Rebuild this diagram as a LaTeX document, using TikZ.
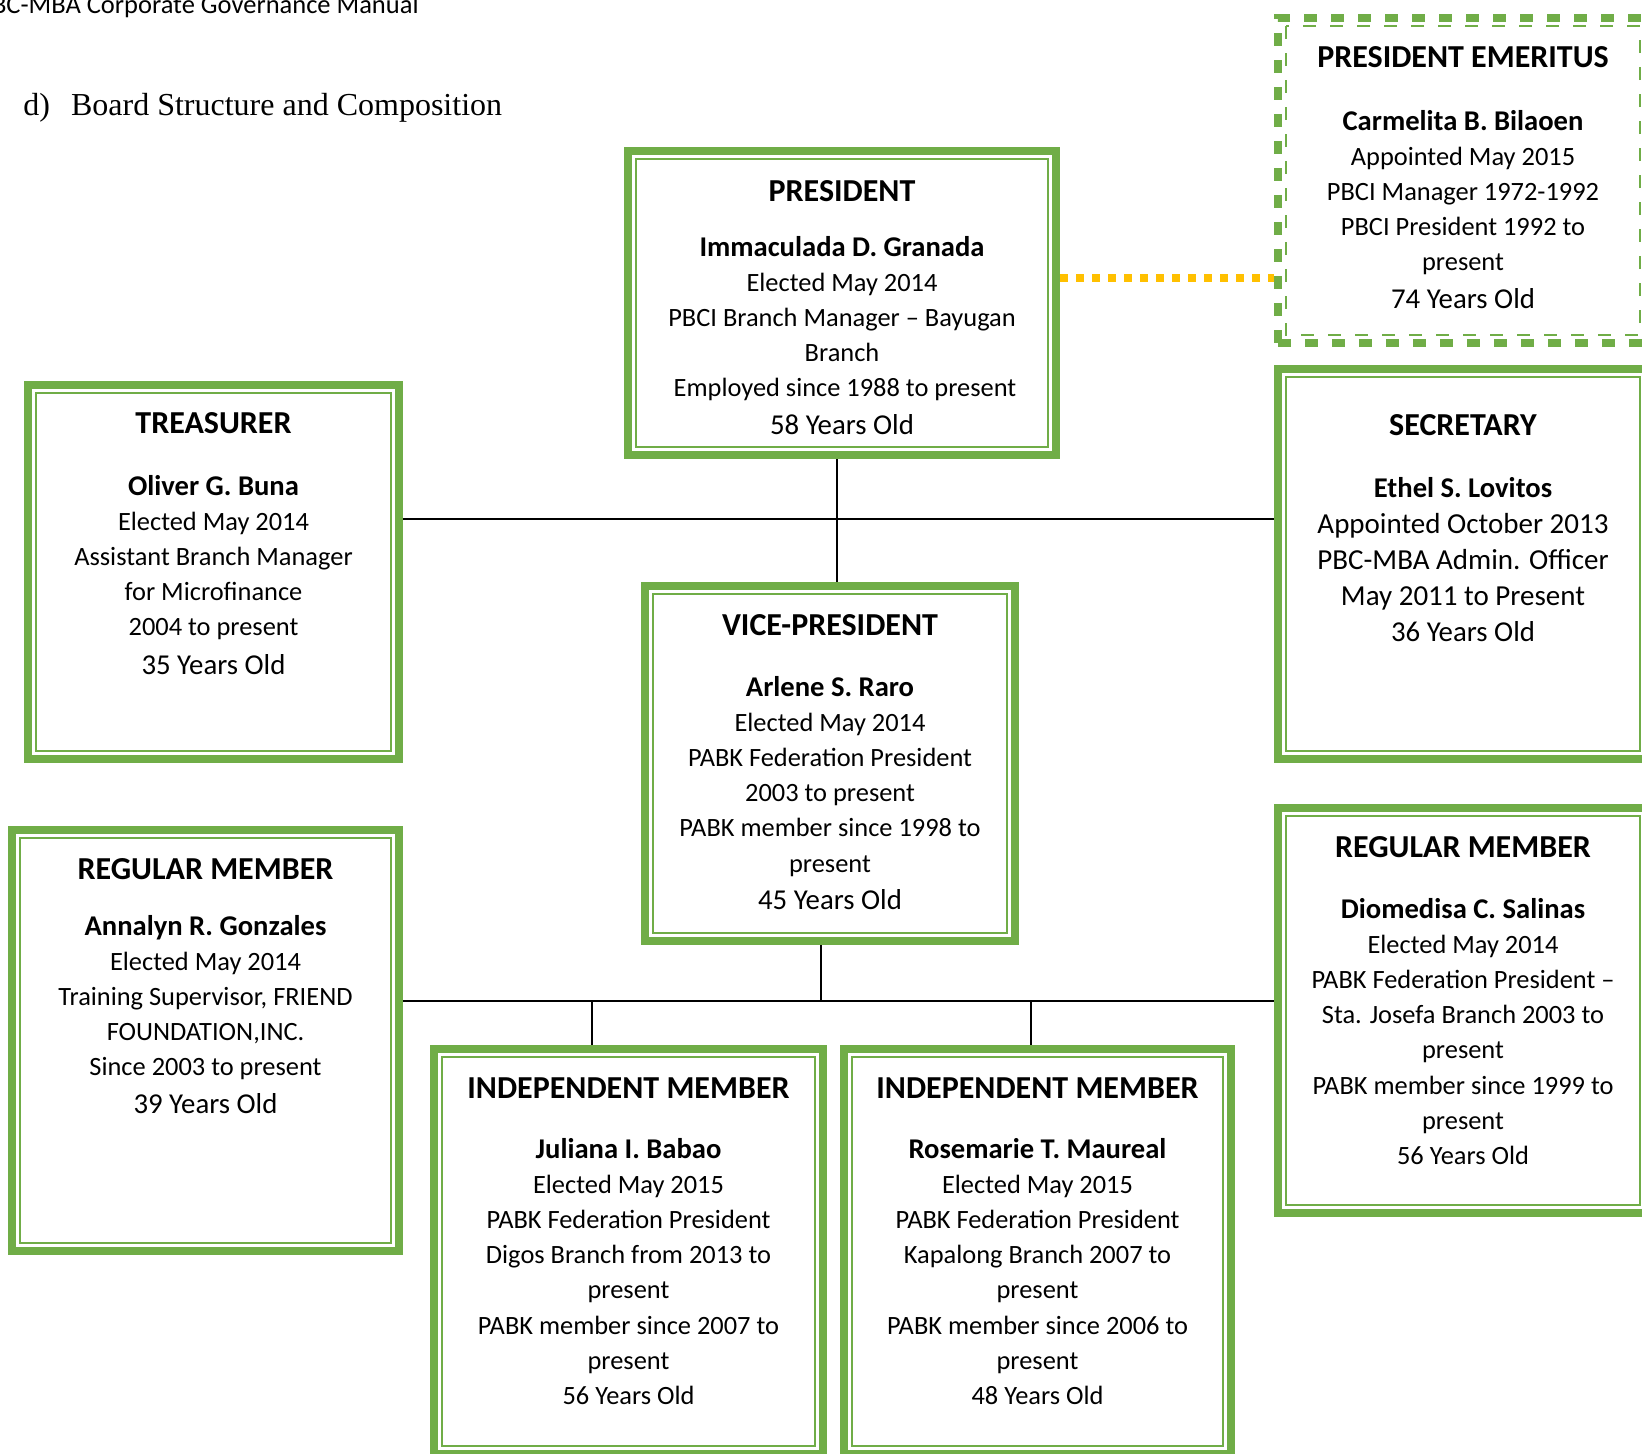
\documentclass[tikz,border=0pt]{standalone}
\usepackage{fontspec}
\setmainfont{Carlito}
\newfontfamily\headserif{Liberation Serif}
\definecolor{boardgreen}{HTML}{70AD47}
\definecolor{gold}{HTML}{FFC000}
\newcommand{\boardcell}[3]{\parbox[c][#2][t]{#1}{\centering\fontsize{13.2}{17.6}\selectfont #3}}
\newcommand{\boardrole}[1]{{\fontsize{16}{17.6}\selectfont\bfseries #1}}
\newcommand{\boardname}[1]{{\fontsize{14.3}{17.6}\selectfont\bfseries #1}}
\newcommand{\boardage}[1]{{\fontsize{14.4}{17.6}\selectfont #1}}
\begin{document}
\begin{tikzpicture}[x=0.5pt, y=-0.5pt,
				frame/.style={draw=boardgreen, line width=4pt, inner sep=0pt, outer sep=2pt},
				inner frame/.style={append after command={\pgfextra{\draw[boardgreen, line width=1pt, #1]
					([shift={(6pt,-6pt)}]\tikzlastnode.north west) rectangle ([shift={(-6pt,6pt)}]\tikzlastnode.south east);}}},
				inner frame/.default=solid,
				board/.style={frame, inner frame},
				emeritus/.style={frame, dash pattern=on 6.5pt off 7pt, inner frame={dash pattern=on 6.5pt off 7pt}},
				link/.style={line width=0.6pt},
				dotlink/.style={draw=gold, line width=4pt, dash pattern=on 4pt off 4pt}]
				\useasboundingbox (0,0) rectangle (1642,1453);
				\node[anchor=base east, inner sep=0pt, font=\fontsize{13.25}{15}\selectfont] (manual) at (419,13) {PBC-MBA Corporate Governance Manual};
				\node[anchor=base west, inner sep=0pt, font=\headserif\fontsize{16}{19}\selectfont] (heading) at (23,115) {d)\hspace{10.5pt}Board Structure and Composition};
				\node[board] (pres) at (842,303) {\boardcell{214pt}{152pt}{\rule{0pt}{25pt}\boardrole{PRESIDENT}\\[9.9pt]
					\boardname{Immaculada D. Granada}\\ Elected May 2014\\ PBCI Branch Manager -- Bayugan\\ Branch\\
					\ Employed since 1988 to present\\[1pt] \boardage{58 Years Old}}};
				\node[emeritus] (emer) at (1463,180.5) {\boardcell{185pt}{162.5pt}{\rule{0pt}{24.5pt}\boardrole{PRESIDENT EMERITUS}\\[13.9pt]
					\boardname{Carmelita B. Bilaoen}\\ Appointed May 2015\\ PBCI Manager 1972-1992\\ PBCI President 1992 to\\
					present\\[1pt] \boardage{74 Years Old}}};
				\node[board] (treas) at (213.5,572) {\boardcell{185.5pt}{187pt}{\rule{0pt}{24pt}\boardrole{TREASURER}\\[13.4pt]
					\boardname{Oliver G. Buna}\\ Elected May 2014\\ Assistant Branch Manager\\ for Microfinance\\
					2004 to present\\[1.5pt] \boardage{35 Years Old}}};
				\node[board] (sec) at (1463,564) {\boardcell{185pt}{195pt}{\fontsize{14.5}{18}\selectfont\rule{0pt}{33pt}\boardrole{SECRETARY}\\[13pt]
					\boardname{Ethel S. Lovitos}\\ Appointed October 2013\\ PBC-MBA Admin. Officer\\ May 2011 to Present\\
					\boardage{36 Years Old}}};
				\node[board] (vp) at (830,763.5) {\boardcell{185pt}{177.5pt}{\rule{0pt}{24.5pt}\boardrole{VICE-PRESIDENT}\\[12.9pt]
					\boardname{Arlene S. Raro}\\ Elected May 2014\\ PABK Federation President\\ 2003 to present\\
					PABK member since 1998 to\\ present\\[1pt] \boardage{45 Years Old}}};
				\node[board] (regL) at (205.5,1040.5) {\boardcell{193.5pt}{210.5pt}{\rule{0pt}{24.5pt}\boardrole{REGULAR MEMBER}\\[10.4pt]
					\boardname{Annalyn R. Gonzales}\\ Elected May 2014\\ Training Supervisor, FRIEND\\ FOUNDATION,INC.\\
					Since 2003 to present\\[1pt] \boardage{39 Years Old}}};
				\node[board] (regR) at (1463,1010.5) {\boardcell{185pt}{202.5pt}{\rule{0pt}{24.5pt}\boardrole{REGULAR MEMBER}\\[12.9pt]
					\boardname{Diomedisa C. Salinas}\\ Elected May 2014\\ PABK Federation President --\\ Sta. Josefa Branch 2003 to\\
					present\\ PABK member since 1999 to\\ present\\ 56 Years Old}};
				\node[board] (indA) at (628.5,1251.5) {\boardcell{194.5pt}{202.5pt}{\rule{0pt}{24.5pt}\boardrole{INDEPENDENT MEMBER}\\[12.4pt]
					\boardname{Juliana I. Babao}\\ Elected May 2015\\ PABK Federation President\\ Digos Branch from 2013 to\\
					present\\ PABK member since 2007 to\\ present\\ 56 Years Old}};
				\node[board] (indB) at (1037.5,1251.5) {\boardcell{193.5pt}{202.5pt}{\rule{0pt}{24.5pt}\boardrole{INDEPENDENT MEMBER}\\[12.4pt]
					\boardname{Rosemarie T. Maureal}\\ Elected May 2015\\ PABK Federation President\\ Kapalong Branch 2007 to\\
					present\\ PABK member since 2006 to\\ present\\ 48 Years Old}};
				\coordinate (dotlevel) at (0,278);
				\coordinate (upper) at (837,519);
				\coordinate (lower) at (821,1001);
				\coordinate (dropA) at (592,1001);
				\coordinate (dropB) at (1031,1001);
				\draw[dotlink] (pres.east |- dotlevel) -- (emer.west |- dotlevel);
				\draw[link] (pres.south -| upper) -- (vp.north -| upper);
				\draw[link] (treas.east |- upper) -- (sec.west |- upper);
				\draw[link] (vp.south -| lower) -- (lower);
				\draw[link, line width=1pt] (regL.east |- lower) -- (regR.west |- lower);
				\draw[link] (dropA) -- (dropA |- indA.north);
				\draw[link] (dropB) -- (dropB |- indB.north);
			\end{tikzpicture}
\end{document}
